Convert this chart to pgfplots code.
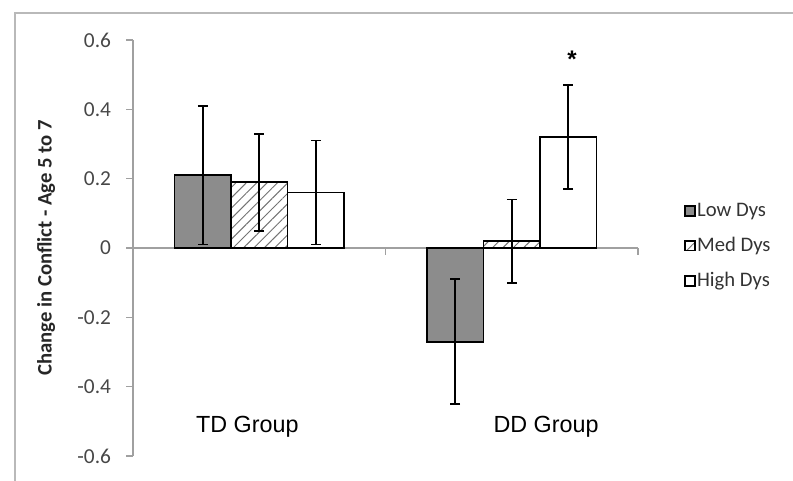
\documentclass[border=0pt]{standalone}
\usepackage{fontspec}
\setmainfont{Carlito}
\newfontfamily\arialfont{Liberation Sans}
\usepackage{pgfplots}
\pgfplotsset{compat=1.18}
\usetikzlibrary{patterns.meta}
\definecolor{axgray}{RGB}{160,160,160}
\definecolor{framegray}{RGB}{185,185,185}
\definecolor{lowfill}{RGB}{140,140,140}
\begin{document}
\begin{tikzpicture}[x=0.75pt,y=0.75pt]
\draw[framegray,line width=1.6pt] (-118,-60) -- (-118,443) -- (720,443);
\begin{axis}[
  at={(0,0)}, anchor=south west,
  scale only axis,
  width=378.75pt, height=312pt,
  xmin=-0.5, xmax=1.5,
  ymin=-0.6, ymax=0.6,
  ybar=0pt, bar width=42.4pt,
  axis x line=middle, axis y line=left,
  axis line style={-, axgray, line width=1.2pt},
  xtick={-0.5,0.5,1.5}, xticklabels={},
  ytick={-0.6,-0.4,-0.2,0,0.2,0.4,0.6},
  tick style={axgray, line width=1.2pt},
  major tick length=5pt,
  xtick align=outside, ytick align=outside,
  /pgf/number format/assume math mode=true,
  yticklabel style={/pgf/number format/fixed, /pgf/number format/precision=1, font=\fontsize{16}{18}\selectfont, text=black!72, xshift=-8pt},
  ylabel={\bfseries Change in Conflict - Age 5 to 7},
  ylabel style={font=\fontsize{15.5}{17}\selectfont, text=black!85, at={(axis description cs:-0.145,0.5)}},
  clip=false,
  legend style={at={(axis description cs:1.083,0.617)}, anchor=north west, draw=none, fill=none,
    font=\fontsize{15.5}{18}\selectfont, row sep=12pt, text=black!80,
    nodes={inner sep=1pt}},
  legend cell align=left,
  area legend,
  legend image code/.code={\draw[#1, line width=1.3pt] (0pt,-3.7pt) rectangle (7.4pt,3.7pt);},
  error bars/error bar style={black, line width=1.4pt},
  error bars/error mark options={rotate=90, mark size=3.6pt, line width=1.4pt, black},
]
\addplot[fill=lowfill, draw=black, line width=1.4pt,
  error bars/.cd, y dir=both, y explicit]
  coordinates {(0,0.21) +- (0,0.20) (1,-0.27) +- (0,0.18)};
\addlegendentry{Low Dys}
\addplot[pattern={Lines[angle=45,distance=5.5pt,line width=0.7pt]}, pattern color=black!55, draw=black, line width=1.4pt,
  error bars/.cd, y dir=both, y explicit]
  coordinates {(0,0.19) +- (0,0.14) (1,0.02) +- (0,0.12)};
\addlegendentry{Med Dys}
\addplot[fill=white, draw=black, line width=1.4pt,
  error bars/.cd, y dir=both, y explicit]
  coordinates {(0,0.16) +- (0,0.15) (1,0.32) +- (0,0.15)};
\addlegendentry{High Dys}
\node[font=\arialfont\fontsize{17.5}{20}\selectfont] at (axis cs:-0.047,-0.515) {TD Group};
\node[font=\arialfont\fontsize{17.5}{20}\selectfont] at (axis cs:1.136,-0.515) {DD Group};
\node[font=\arialfont\bfseries\fontsize{18}{20}\selectfont] at (axis cs:1.239,0.545) {*};
\end{axis}
\pgfresetboundingbox
\useasboundingbox (-133,-25) rectangle (660,456);
\end{tikzpicture}
\end{document}
